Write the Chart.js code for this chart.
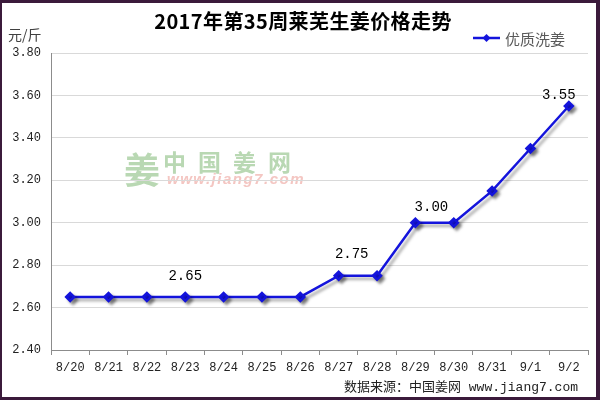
<!DOCTYPE html>
<html lang="zh-CN">
<head>
<meta charset="utf-8">
<title>2017年第35周莱芜生姜价格走势</title>
<script src="https://cdn.jsdelivr.net/npm/chart.js@4/dist/chart.umd.min.js"></script>
<style>
    html, body { margin: 0; padding: 0; background: #fff; }
    canvas { display: block; }
</style>
</head>
<body>
<canvas id="priceChart" width="600" height="400"></canvas>
<script>
// ── Data ──
const days = ['8/20', '8/21', '8/22', '8/23', '8/24', '8/25', '8/26',
              '8/27', '8/28', '8/29', '8/30', '8/31', '9/1', '9/2'];
const washedGinger = [2.65, 2.65, 2.65, 2.65, 2.65, 2.65, 2.65,
                      2.75, 2.75, 3.00, 3.00, 3.15, 3.35, 3.55];
const yTicks = [2.40, 2.60, 2.80, 3.00, 3.20, 3.40, 3.60, 3.80];
const labelledDays = ['8/23', '8/27', '8/29', '9/2'];

const TITLE = '2017年第35周莱芜生姜价格走势';
const SERIES = '优质洗姜';
const UNIT = '元/斤';
const SOURCE = '数据来源：中国姜网 www.jiang7.com';

const BLUE = '#1414dc';
const MONO = '"Liberation Mono", "DejaVu Sans Mono", monospace';
const CJK = '"Noto Sans CJK SC", "Noto Sans", sans-serif';

// nudges for the value labels, as in the original sheet
const labelNudge = { '8/23': [0, -21], '8/27': [13, -21], '8/29': [16, -15], '9/2': [-10, -11] };

// ── Plugins ──
const frame = {
    id: 'frame',
    beforeDraw(chart) {
        const { ctx, width, height } = chart;
        ctx.save();
        ctx.fillStyle = '#fff';
        ctx.fillRect(0, 0, width, height);

        // watermark
        ctx.fillStyle = '#b9d8b3';
        ctx.textBaseline = 'middle';
        ctx.font = `bold 36px ${CJK}`;
        ctx.fillText('姜', 124, 170);
        ctx.font = `bold 23px ${CJK}`;
        ['中', '国', '姜', '网'].forEach((c, i) => ctx.fillText(c, 163 + i * 35, 162));
        ctx.fillStyle = '#f4c6c2';
        ctx.font = 'italic bold 15px "Liberation Sans", Arial, sans-serif';
        ctx.letterSpacing = '1.5px';
        ctx.fillText('www.jiang7.com', 167, 180);
        ctx.restore();
    },
    afterDraw(chart) {
        const { ctx, width, height } = chart;
        ctx.save();

        // title & captions
        ctx.fillStyle = '#000';
        ctx.textAlign = 'center';
        ctx.textBaseline = 'middle';
        ctx.font = `bold 20px ${CJK}`;
        ctx.letterSpacing = '0.4px';
        ctx.fillText(TITLE, 303, 21);
        ctx.letterSpacing = '0px';

        ctx.textAlign = 'left';
        ctx.fillStyle = '#404040';
        ctx.font = `14px ${CJK}`;
        ctx.fillText(UNIT, 8, 35);

        // legend
        ctx.strokeStyle = BLUE;
        ctx.lineWidth = 2.5;
        ctx.beginPath();
        ctx.moveTo(473, 38);
        ctx.lineTo(500, 38);
        ctx.stroke();
        ctx.fillStyle = BLUE;
        ctx.beginPath();
        ctx.moveTo(486.5, 34);
        ctx.lineTo(490.5, 38);
        ctx.lineTo(486.5, 42);
        ctx.lineTo(482.5, 38);
        ctx.closePath();
        ctx.fill();
        ctx.fillStyle = '#595959';
        ctx.font = `15px ${CJK}`;
        ctx.fillText(SERIES, 505, 39);

        // source
        ctx.fillStyle = '#222';
        ctx.textAlign = 'right';
        ctx.font = `13px ${MONO.replace('monospace', '')}${CJK}`;
        ctx.fillText(SOURCE, 578, 388);

        // border
        ctx.fillStyle = '#3b1a3b';
        ctx.fillRect(0, 0, width, 3);
        ctx.fillRect(0, 0, 2, height);
        ctx.fillRect(width - 4, 0, 4, height);
        ctx.fillRect(0, height - 3, width, 3);
        ctx.restore();
    },
};

const lineShadow = {
    id: 'lineShadow',
    beforeDatasetDraw(chart) {
        const { ctx } = chart;
        ctx.save();
        ctx.shadowColor = 'rgba(0, 0, 0, 0.35)';
        ctx.shadowOffsetX = 3;
        ctx.shadowOffsetY = 3;
        ctx.shadowBlur = 3;
    },
    afterDatasetDraw(chart) {
        chart.ctx.restore();
    },
};

const valueLabels = {
    id: 'valueLabels',
    afterDatasetsDraw(chart) {
        const { ctx } = chart;
        const meta = chart.getDatasetMeta(0);
        ctx.save();
        ctx.fillStyle = '#000';
        ctx.font = `14px ${MONO}`;
        ctx.textAlign = 'center';
        ctx.textBaseline = 'middle';
        labelledDays.forEach((day) => {
            const i = days.indexOf(day);
            const pt = meta.data[i];
            const [dx, dy] = labelNudge[day];
            ctx.fillText(washedGinger[i].toFixed(2), pt.x + dx, pt.y + dy);
        });
        ctx.restore();
    },
};

// ── Chart ──
new Chart(document.getElementById('priceChart'), {
    type: 'line',
    data: {
        labels: days,
        datasets: [{
            label: SERIES,
            data: washedGinger,
            borderColor: BLUE,
            backgroundColor: BLUE,
            borderWidth: 2.5,
            pointStyle: 'rectRot',
            pointRadius: 4,
            pointHoverRadius: 4,
            tension: 0,
        }],
    },
    options: {
        responsive: false,
        animation: false,
        layout: { padding: { left: 0, right: 12, top: 53, bottom: 0 } },
        plugins: {
            legend: { display: false },
            title: { display: false },
            tooltip: { enabled: false },
        },
        scales: {
            x: {
                offset: true,
                grid: {
                    offset: true,
                    drawOnChartArea: false,
                    drawTicks: true,
                    tickLength: 5,
                    tickColor: '#8c8c8c',
                },
                border: { color: '#8c8c8c', width: 1 },
                ticks: {
                    color: '#222',
                    font: { family: MONO, size: 12 },
                    padding: 6,
                    maxRotation: 0,
                    autoSkip: false,
                },
                afterFit(scale) { scale.height = 50; },
            },
            y: {
                min: yTicks[0],
                max: yTicks[yTicks.length - 1],
                afterBuildTicks(scale) {
                    scale.ticks = yTicks.map((v) => ({ value: v }));
                },
                grid: { color: '#d9d9d9', drawTicks: false },
                border: { color: '#8c8c8c', width: 1 },
                ticks: {
                    color: '#222',
                    font: { family: MONO, size: 12 },
                    padding: 10,
                    callback: (v) => Number(v).toFixed(2),
                },
                afterFit(scale) { scale.width = 51; },
            },
        },
    },
    plugins: [frame, lineShadow, valueLabels],
});
</script>
</body>
</html>
